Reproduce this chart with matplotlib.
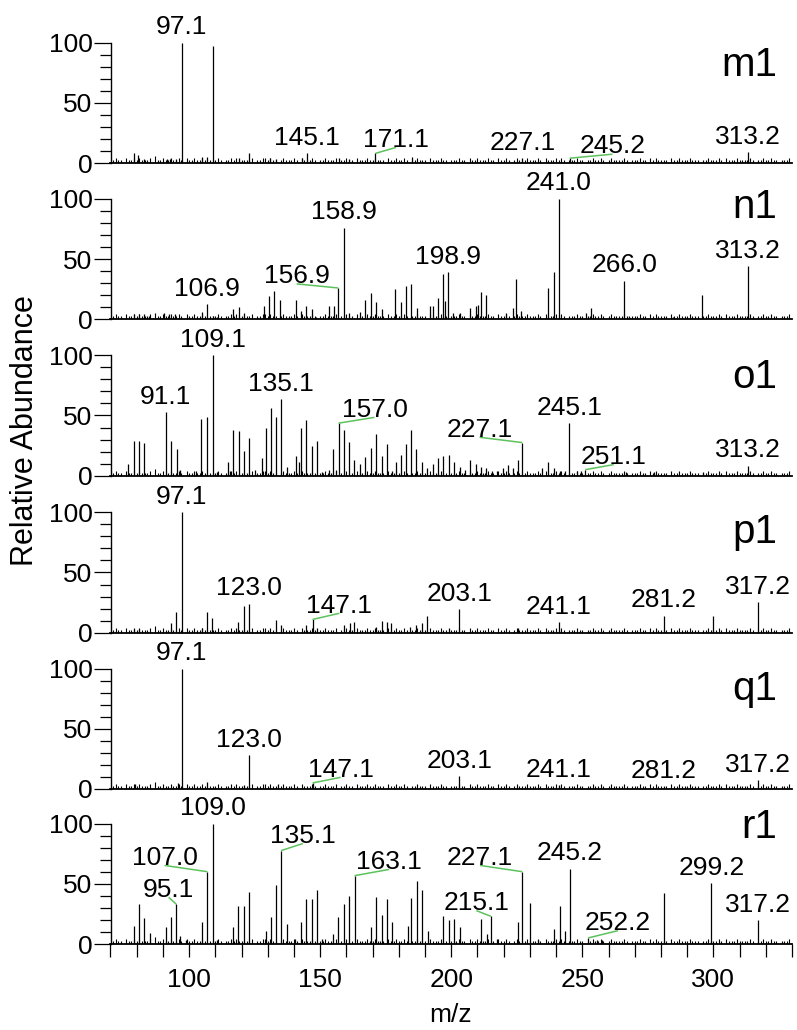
import numpy as np
import matplotlib
matplotlib.use("Agg")
import matplotlib.pyplot as plt
from matplotlib.ticker import MultipleLocator

plt.rcParams['font.family'] = ['Liberation Sans', 'DejaVu Sans']

# ---------------------------------------------------------------- data
panel_names = ["m1", "n1", "o1", "p1", "q1", "r1"]

m1_mz = [79.0, 80.6, 82.9, 91.5, 92.7, 94.9, 97.1, 105.0, 106.8, 109.0, 119.0,
         123.0, 131.0, 133.0, 143.1, 145.1, 147.0, 157.0, 161.0, 171.1, 184.9,
         227.1, 245.2, 313.2]
m1_int = [8, 7, 3, 3, 3, 3, 100, 5, 5, 97, 4,
          8, 4, 3, 4, 8, 2, 4, 3, 8, 5,
          4, 4, 9]
m1_labels = ["97.1", "145.1", "171.1", "227.1", "245.2", "313.2"]

n1_mz = [79.1, 81.0, 82.9, 84.8, 90.6, 92.5, 94.6, 100.1, 104.8, 106.9, 109.2,
         110.8, 116.9, 119.0, 121.1, 128.4, 130.4, 132.5, 134.5, 140.8, 142.7,
         144.7, 146.7, 148.4, 153.2, 155.1, 156.9, 158.9, 161.1, 165.1, 167.0,
         169.2, 171.3, 173.4, 178.7, 180.9, 182.9, 184.8, 187.0, 192.0, 193.1,
         195.0, 197.0, 197.8, 198.9, 200.6, 203.2, 207.1, 209.3, 210.3, 211.5,
         213.1, 220.7, 223.7, 224.8, 226.5, 237.1, 239.2, 241.0, 251.3, 253.5,
         266.0, 267.9, 284.7, 295.5, 313.2]
n1_int = [4, 4, 4, 3, 5, 4, 4, 2, 6, 12.7, 3,
          2, 8.6, 10.5, 5, 11, 19, 23.6, 16, 16, 7,
          11, 8.6, 2, 11, 11, 26, 76, 5, 6, 16,
          22, 14, 8.6, 25, 14.7, 27.7, 29, 9.7, 11, 11,
          17.5, 37.5, 15, 39, 5, 5, 9.7, 11, 12, 23,
          20, 5, 9.7, 33.5, 7, 26, 39, 100, 5, 9,
          32, 3, 2, 20, 44]
n1_labels = ["106.9", "156.9", "158.9", "198.9", "241.0", "266.0", "313.2"]

o1_mz = [76.8, 79.0, 80.9, 82.9, 91.1, 93.1, 95.3, 96.6, 102.7, 104.7, 106.8,
         109.1, 110.6, 114.9, 115.7, 116.9, 119.0, 121.1, 123.0, 125.2, 127.8,
         129.2, 131.2, 133.2, 135.1, 137.3, 140.8, 141.9, 142.8, 144.7, 146.9,
         148.8, 150.7, 153.2, 154.9, 156.2, 157.0, 159.0, 160.9, 163.0, 165.1,
         167.0, 169.2, 171.3, 173.4, 175.5, 177.5, 179.1, 180.9, 182.9, 184.8,
         186.7, 188.9, 190.8, 193.1, 195.0, 197.0, 199.1, 201.0, 203.2, 205.2,
         207.1, 209.3, 211.2, 213.4, 215.4, 217.3, 219.7, 221.8, 223.7, 225.6,
         227.1, 234.8, 237.1, 239.2, 241.4, 243.3, 245.1, 248.1, 249.4, 251.1,
         266.6, 277.4, 295.9, 313.2]
o1_int = [9.7, 29, 29, 27.5, 52.8, 29, 22, 5, 4, 47, 48.6,
          100, 3, 11, 4, 38, 36.7, 20.6, 31, 5, 14.5,
          39.5, 56, 48.6, 63.6, 7.5, 16.4, 11, 39.5, 46, 25,
          29, 3, 5, 22, 5, 43.6, 38, 28, 13, 9.7,
          15.6, 23, 35, 16.4, 26.7, 4, 11, 17, 26, 38,
          22, 11, 6, 10, 14.5, 16, 17, 11, 7, 5,
          13, 10, 7, 6, 4, 4, 6, 9, 6, 13,
          27.5, 6, 11, 6, 4, 4, 43.6, 4, 4, 5,
          3, 3, 3, 8.3]
o1_labels = ["91.1", "109.1", "135.1", "157.0", "227.1", "245.1", "251.1", "313.2"]

p1_mz = [79.1, 80.9, 93.1, 95.0, 97.1, 104.8, 106.8, 108.7, 118.8, 121.0, 123.0,
         133.1, 135.1, 144.7, 147.1, 148.8, 159.0, 161.2, 163.0, 171.3, 173.4,
         175.3, 177.2, 184.4, 186.7, 188.9, 190.8, 199.1, 203.1, 225.6, 241.1,
         281.2, 299.7, 317.2]
p1_int = [3, 3, 8, 17, 100, 4, 17, 12.5, 9, 22, 24,
          10.6, 6, 6, 11, 4, 6, 8, 9, 5, 10,
          9, 8, 5, 6, 8, 14, 4, 19.5, 4, 8.6,
          14, 14, 25.3]
p1_labels = ["97.1", "123.0", "147.1", "203.1", "241.1", "281.2", "317.2"]

q1_mz = [79.3, 95.8, 97.1, 106.9, 120.9, 123.0, 133.9, 147.1, 203.1, 241.1,
         281.2, 317.2]
q1_int = [4, 5, 100, 6, 3, 28, 4, 5, 10.6, 3,
          2, 7.5]
q1_labels = ["97.1", "123.0", "147.1", "203.1", "241.1", "281.2", "317.2"]

r1_mz = [79.0, 81.0, 82.9, 85.1, 91.1, 93.1, 95.1, 96.6, 98.7, 104.8, 107.0,
         109.0, 110.8, 116.9, 118.8, 121.0, 123.0, 129.3, 131.2, 133.2, 135.1,
         137.3, 140.5, 142.7, 144.7, 146.9, 148.8, 150.7, 154.9, 156.8, 159.0,
         161.1, 163.1, 169.2, 171.3, 173.4, 175.3, 177.5, 183.4, 184.8, 187.0,
         188.9, 191.0, 197.0, 199.1, 201.0, 203.2, 211.5, 213.5, 215.1, 217.3,
         225.6, 227.1, 229.9, 233.1, 239.2, 241.4, 243.3, 245.2, 252.2, 255.5,
         257.4, 281.2, 299.2, 317.2]
r1_int = [15, 33, 21.4, 9.4, 14, 22.7, 33, 6.7, 3, 18, 60,
          100, 3, 14, 31.7, 31.7, 43, 11, 22.7, 49, 77.5,
          16.4, 4, 18, 37.5, 37.5, 45, 4, 8, 22.7, 33,
          40, 56.7, 14, 39, 24, 37, 18, 15, 38, 52.5,
          45, 11, 23, 20, 21, 14, 21, 8, 23, 4,
          18, 60, 34, 3, 12.5, 31.7, 10.8, 62.5, 5, 3,
          3, 42, 50.5, 20]
r1_labels = ["95.1", "107.0", "109.0", "135.1", "163.1", "215.1", "227.1",
             "245.2", "252.2", "299.2", "317.2"]

# low-level background ions, one digit per nominal mass from m/z 71 to 329
background = ("1211021121" "2111203112" "1121121021" "1211210111" "2101121211"
              "1112011221" "2110121112" "1021112101" "1211120112" "1102111211"
              "2111021121" "1210112111" "0211121101" "1121102112" "1112110211"
              "2101211121" "1121021112" "1210111211" "0112112101" "2111121011"
              "1211021211" "1102112111" "2111011211" "1210211121" "1112101121"
              "121101112")
bg_first_mass = 71

# ---------------------------------------------------------------- layout
W, H = 797, 1030
AX_LEFT, AX_RIGHT = 110.5, 792
BASES = [163, 319.3, 475.7, 632.7, 789, 944]
PANEL_H = 120.5
FS = 19
GREEN = "#5cc25c"

# labels moved off their peaks: (centre m/z, baseline %) -- joined by a leader
leaders = {
    "m1": {"171.1": (178.9, 13.5), "245.2": (261.5, 7.9)},
    "n1": {"156.9": (141.0, 30.0)},
    "o1": {"157.0": (170.7, 49.0), "227.1": (210.8, 32.5), "251.1": (262.0, 9.8)},
    "p1": {"147.1": (157.3, 16.7)},
    "q1": {"147.1": (157.8, 10.3)},
    "r1": {"95.1": (92.2, 39.4), "107.0": (90.6, 65.8), "135.1": (143.4, 84.0),
           "163.1": (176.3, 62.5), "215.1": (209.6, 28.3), "227.1": (211.0, 65.8),
           "252.2": (263.6, 11.7)},
}
name_y = {"m1": 72.3, "n1": 84.0, "o1": 72.8, "p1": 74.5, "q1": 74.0, "r1": 88.0}

spectra = {
    "m1": (m1_mz, m1_int, m1_labels),
    "n1": (n1_mz, n1_int, n1_labels),
    "o1": (o1_mz, o1_int, o1_labels),
    "p1": (p1_mz, p1_int, p1_labels),
    "q1": (q1_mz, q1_int, q1_labels),
    "r1": (r1_mz, r1_int, r1_labels),
}

bg_mz = bg_first_mass + np.arange(len(background))
bg_int = np.array([int(c) for c in background]) * 1.5

fig = plt.figure(figsize=(W / 100, H / 100), dpi=100)

for i, name in enumerate(panel_names):
    mz, inten, labels = spectra[name]
    base = BASES[i]
    ax = fig.add_axes([AX_LEFT / W, 1 - base / H, (AX_RIGHT - AX_LEFT) / W, PANEL_H / H])
    ax.set_xlim(70, 330)
    ax.set_ylim(0, 100)
    ax.patch.set_alpha(0)

    keep = bg_int > 0
    ax.vlines(bg_mz[keep], 0, bg_int[keep] + 1.0, color="black", lw=0.8)
    ax.vlines(mz, 0, inten, color="black", lw=0.9)

    for s in ("top", "right"):
        ax.spines[s].set_visible(False)
    ax.spines["left"].set_linewidth(1.0)
    ax.spines["bottom"].set_linewidth(1.3)

    ax.set_yticks([0, 50, 100])
    ax.yaxis.set_minor_locator(MultipleLocator(10))
    ax.tick_params(axis="y", which="major", length=12, width=0.9, labelsize=FS, pad=1)
    ax.tick_params(axis="y", which="minor", length=8, width=0.9)

    if i == len(panel_names) - 1:
        ticks = list(range(70, 331, 10))
        ax.set_xticks(ticks)
        ax.set_xticklabels([str(t) if t % 50 == 0 else "" for t in ticks])
        ax.tick_params(axis="x", length=9, width=0.9, labelsize=FS, pad=8)
    else:
        ax.tick_params(axis="x", bottom=False, labelbottom=False)

    lookup = dict(zip(mz, inten))
    for lab in labels:
        pmz = float(lab)
        ph = lookup[pmz]
        if lab in leaders[name]:
            lx, ly = leaders[name][lab]
            ax.plot([pmz, lx], [ph, ly - 0.6], color=GREEN, lw=1.1,
                    solid_capstyle="butt", clip_on=False)
            ax.text(lx, ly, lab, ha="center", va="baseline", fontsize=FS)
        else:
            ax.annotate(lab, (pmz, ph), xytext=(0, 6), textcoords="offset points",
                        ha="center", va="baseline", fontsize=FS)

    ax.text(324.5, name_y[name], name, ha="right", va="baseline", fontsize=29)

fig.text(25 / W, 1 - 431 / H, "Relative Abundance", rotation=90,
         ha="center", va="center", fontsize=22)
fig.text(451 / W, 1 - 1022 / H, "m/z", ha="center", va="baseline", fontsize=FS)

fig.savefig("out.png", dpi=100)
